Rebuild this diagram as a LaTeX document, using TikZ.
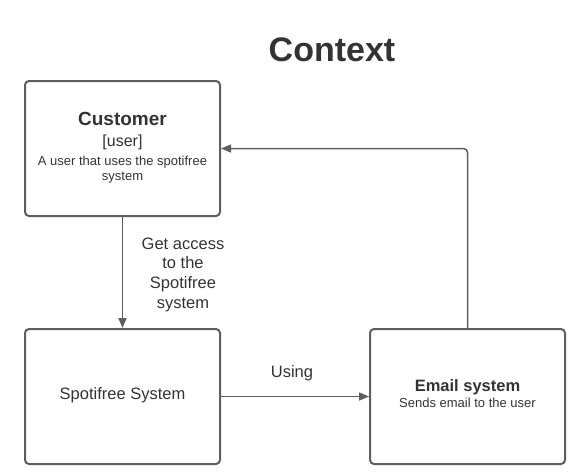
\documentclass[tikz,border=0pt]{standalone}
\usepackage{fontspec}
\setmainfont{Liberation Sans}
\usetikzlibrary{arrows.meta}
\definecolor{linegray}{HTML}{5E5E5E}
\definecolor{txt}{HTML}{333333}
\begin{document}
\begin{tikzpicture}[x=1pt,y=-1pt,
  box/.style={draw=linegray, line width=2pt, rounded corners=4pt, minimum width=195pt, minimum height=135pt, inner sep=0pt},
  conn/.style={draw=linegray, line width=1.5pt, -{Triangle[length=10pt,width=8pt]}},
  t/.style={text=txt, inner sep=0pt, anchor=base},
  big/.style={font=\fontsize{16.5}{20}\selectfont},
  small/.style={font=\fontsize{13}{15}\selectfont}]
\useasboundingbox (0,0) rectangle (571,472);
\node[t, font=\fontsize{34}{40}\selectfont\bfseries] (title) at (332,61) {Context};
\node[box] (cust) at (122.5,148.5) {};
\node[box] (spot) at (122.5,396.5) {};
\node[box] (email) at (467.5,396.5) {};
\node[t, font=\fontsize{19}{22}\selectfont\bfseries] (custname) at (122.5,125.5) {Customer};
\node[t, font=\fontsize{16}{19}\selectfont] (custtype) at (122.5,146.5) {[user]};
\node[t, small] (custd1) at (122.5,165.5) {A user that uses the spotifree};
\node[t, small] (custd2) at (122.5,180) {system};
\node[t, big] (spotname) at (122.5,399) {Spotifree System};
\node[t, font=\fontsize{16.5}{20}\selectfont\bfseries] (emailname) at (467.5,391) {Email system};
\node[t, small] (emaild) at (467.5,407.3) {Sends email to the user};
\draw[conn] (cust.south) -- (spot.north);
\draw[conn] (spot.east) -- (email.west);
\draw[conn, rounded corners=4pt] (email.north) |- (cust.east);
\node[t, big] (l1a) at (183,249) {Get access};
\node[t, big] (l1b) at (183,268.7) {to the};
\node[t, big] (l1c) at (183,288.4) {Spotifree};
\node[t, big] (l1d) at (183,308) {system};
\node[t, big] (l2) at (292,377.3) {Using};
\end{tikzpicture}
\end{document}
